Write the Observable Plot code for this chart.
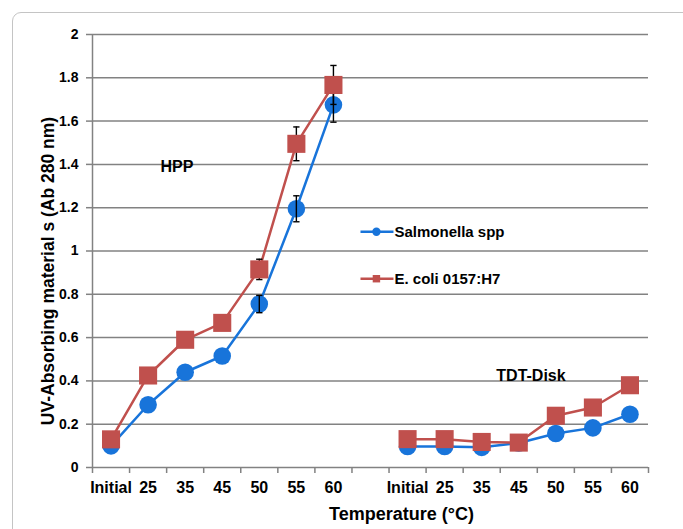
<!DOCTYPE html>
<html>
<head>
<meta charset="utf-8">
<script src="https://cdn.jsdelivr.net/npm/d3@7"></script>
<script src="https://cdn.jsdelivr.net/npm/@observablehq/plot@0.6"></script>
<style>
  html, body { margin: 0; padding: 0; background: #fff; }
  #wrap { position: relative; width: 683px; height: 529px; overflow: hidden; background: #fff; }
  #frame { position: absolute; left: 12px; top: 12px; width: 720px; height: 600px;
           border: 1px solid #c4c4c4; border-radius: 9px; box-sizing: border-box; }
  #chart { position: absolute; left: 0; top: 0; }
</style>
</head>
<body>
<div id="wrap"><div id="frame"></div><div id="chart"></div></div>
<script>
// ---- data ----
const temps = ["Initial", "25", "35", "45", "50", "55", "60"];
const panels = ["HPP", "TDT-Disk"];
const categories = [...temps, "", ...temps];
const seriesNames = ["Salmonella spp", "E. coli 0157:H7"];

const hppSalmonella = [0.10, 0.29, 0.44, 0.515, 0.755, 1.195, 1.675];
const hppEcoli      = [0.13, 0.425, 0.59, 0.668, 0.915, 1.495, 1.767];
const tdtSalmonella = [0.097, 0.097, 0.093, 0.113, 0.157, 0.183, 0.246];
const tdtEcoli      = [0.131, 0.131, 0.118, 0.115, 0.239, 0.277, 0.38];

const hppSalmonellaErr = [0, 0, 0, 0, 0.04, 0.06, 0.08];
const hppEcoliErr      = [0, 0, 0, 0, 0.047, 0.078, 0.09];

const yTicks = [0, 0.2, 0.4, 0.6, 0.8, 1, 1.2, 1.4, 1.6, 1.8, 2];
const yTickLabels = ["0", "0.2", "0.4", "0.6", "0.8", "1", "1.2", "1.4", "1.6", "1.8", "2"];
const xTitle = "Temperature (\u00B0C)";
const yTitle = "UV-Absorbing material s (Ab 280 nm)";

// ---- build table ----
function rows(values, panel, series, err) {
  return values.map((v, i) => ({
    x: panel * (temps.length + 1) + i + 0.5,
    y: v,
    series,
    key: series + "|" + panels[panel],
    err: err ? err[i] : 0
  }));
}
const sal = [...rows(hppSalmonella, 0, seriesNames[0], hppSalmonellaErr), ...rows(tdtSalmonella, 1, seriesNames[0])];
const eco = [...rows(hppEcoli, 0, seriesNames[1], hppEcoliErr), ...rows(tdtEcoli, 1, seriesNames[1])];
const salErr = sal.filter(d => d.err > 0);
const ecoErr = eco.filter(d => d.err > 0);

const xBounds = d3.range(categories.length + 1);
const xCenters = d3.range(categories.length).map(i => i + 0.5);

const BLUE = "#1874da", RED = "#c0504d", GRID = "#828282";
const legend = seriesNames.map((name, i) => ({name, i}));
const legendY = i => 1.089 - i * 0.217;

const chart = Plot.plot({
  width: 683, height: 529,
  marginLeft: 92, marginRight: 35, marginTop: 34, marginBottom: 62,
  x: {type: "linear", domain: [0, categories.length]},
  y: {domain: [0, 2]},
  style: {fontFamily: "'Liberation Sans', Arial, sans-serif", fontWeight: "bold", fontSize: "14px", background: "transparent", color: "black", overflow: "visible"},
  marks: [
    Plot.ruleY(yTicks, {stroke: GRID, strokeWidth: 1.5}),
    Plot.ruleX([0], {stroke: GRID, strokeWidth: 1.5}),
    Plot.axisY(yTicks, {label: null, tickSize: 6, tickPadding: 8, stroke: GRID, strokeWidth: 1.5, fill: "black", fontSize: 14,
      tickFormat: d => yTickLabels[yTicks.indexOf(d)]}),
    Plot.axisX(xBounds, {label: null, tickSize: 6, stroke: GRID, strokeWidth: 1.5, tickFormat: () => ""}),
    Plot.axisX(xCenters, {label: null, tickSize: 0, tickPadding: 14, fill: "black", fontSize: 16,
      tickFormat: d => categories[Math.floor(d)]}),
    Plot.text([yTitle], {frameAnchor: "left", textAnchor: "middle", dx: -44.5, dy: 20, rotate: -90, fontSize: 17.5, fill: "black"}),
    Plot.text([xTitle], {frameAnchor: "bottom", textAnchor: "middle", dx: 31, dy: 52, fontSize: 18, fill: "black"}),
    Plot.text([panels[0]], {x: 2.28, y: 1.39, fontSize: 16, fill: "black"}),
    Plot.text([panels[1]], {x: 11.83, y: 0.424, fontSize: 16, fill: "black"}),
    // Salmonella
    Plot.line(sal, {x: "x", y: "y", z: "key", stroke: BLUE, strokeWidth: 2.5}),
    Plot.dot(sal, {x: "x", y: "y", r: 8.8, fill: BLUE, stroke: null}),
    Plot.ruleX(salErr, {x: "x", y1: d => d.y - d.err, y2: d => d.y + d.err, stroke: "black", strokeWidth: 1.4}),
    Plot.link(salErr, {x1: d => d.x - 0.085, x2: d => d.x + 0.085, y1: d => d.y - d.err, y2: d => d.y - d.err, stroke: "black", strokeWidth: 1.4}),
    Plot.link(salErr, {x1: d => d.x - 0.085, x2: d => d.x + 0.085, y1: d => d.y + d.err, y2: d => d.y + d.err, stroke: "black", strokeWidth: 1.4}),
    // E. coli
    Plot.line(eco, {x: "x", y: "y", z: "key", stroke: RED, strokeWidth: 2.5}),
    Plot.ruleX(ecoErr, {x: "x", y1: d => d.y - d.err, y2: d => d.y + d.err, stroke: "black", strokeWidth: 1.4}),
    Plot.link(ecoErr, {x1: d => d.x - 0.085, x2: d => d.x + 0.085, y1: d => d.y - d.err, y2: d => d.y - d.err, stroke: "black", strokeWidth: 1.4}),
    Plot.link(ecoErr, {x1: d => d.x - 0.085, x2: d => d.x + 0.085, y1: d => d.y + d.err, y2: d => d.y + d.err, stroke: "black", strokeWidth: 1.4}),
    Plot.dot(eco, {x: "x", y: "y", r: 10.2, symbol: "square", fill: RED, stroke: null}),
    // legend
    Plot.link(legend, {x1: 7.23, x2: 8.12, y1: d => legendY(d.i), y2: d => legendY(d.i), stroke: d => d.i ? RED : BLUE, strokeWidth: 2.5}),
    Plot.dot(legend.filter(d => d.i === 0), {x: 7.66, y: d => legendY(d.i), r: 4.2, fill: BLUE, stroke: null}),
    Plot.dot(legend.filter(d => d.i === 1), {x: 7.66, y: d => legendY(d.i), r: 4.2, symbol: "square", fill: RED, stroke: null}),
    Plot.text(legend, {x: 8.12, y: d => legendY(d.i), text: "name", textAnchor: "start", dx: 1, fontSize: 15, fill: "black"})
  ]
});
document.getElementById("chart").appendChild(chart);
</script>
</body>
</html>
